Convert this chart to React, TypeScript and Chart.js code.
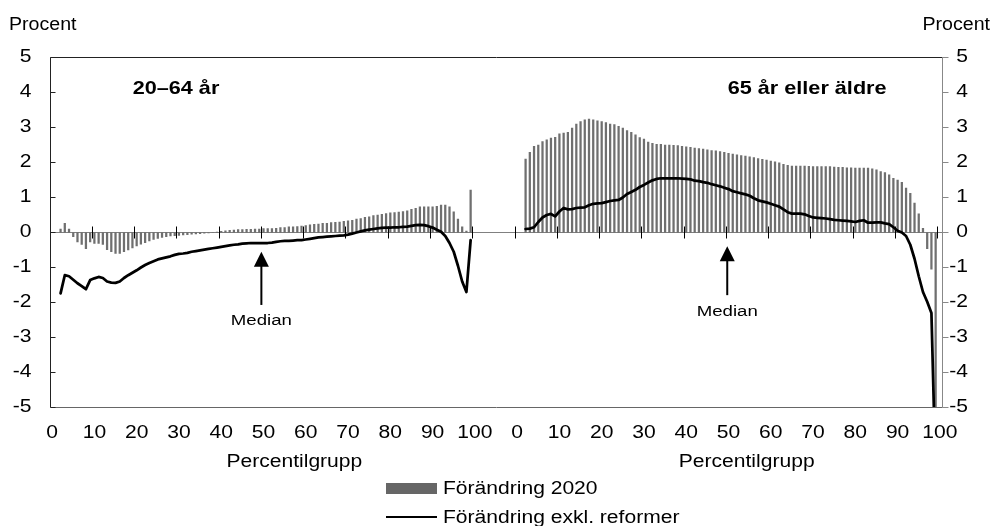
import React, { useEffect, useRef } from 'react';
import { Chart, registerables } from 'chart.js';

Chart.register(...registerables);

// ---------- data ----------
const percentiles = [
  2, 3, 4, 5, 6, 7, 8, 9,
  10, 11, 12, 13, 14, 15, 16, 17, 18, 19,
  20, 21, 22, 23, 24, 25, 26, 27, 28, 29,
  30, 31, 32, 33, 34, 35, 36, 37, 38, 39,
  40, 41, 42, 43, 44, 45, 46, 47, 48, 49,
  50, 51, 52, 53, 54, 55, 56, 57, 58, 59,
  60, 61, 62, 63, 64, 65, 66, 67, 68, 69,
  70, 71, 72, 73, 74, 75, 76, 77, 78, 79,
  80, 81, 82, 83, 84, 85, 86, 87, 88, 89,
  90, 91, 92, 93, 94, 95, 96, 97, 98, 99,
];

// 20–64 år
const youngChange2020 = [
  0.1, 0.26, 0.1, -0.12, -0.27, -0.34, -0.46, -0.27,
  -0.31, -0.31, -0.34, -0.49, -0.55, -0.6, -0.6, -0.55, -0.5, -0.44,
  -0.38, -0.33, -0.29, -0.24, -0.2, -0.17, -0.14, -0.12, -0.1, -0.09,
  -0.08, -0.07, -0.06, -0.05, -0.04, -0.03, -0.02, -0.01, 0.0, 0.01,
  0.03, 0.05, 0.06, 0.07, 0.08, 0.08, 0.09, 0.09, 0.1, 0.1,
  0.11, 0.11, 0.11, 0.12, 0.14, 0.14, 0.16, 0.16, 0.17, 0.18,
  0.2, 0.22, 0.23, 0.24, 0.26, 0.26, 0.28, 0.29, 0.3, 0.32,
  0.33, 0.35, 0.38, 0.4, 0.43, 0.45, 0.48, 0.5, 0.52, 0.54,
  0.56, 0.57, 0.58, 0.6, 0.62, 0.66, 0.69, 0.73, 0.73, 0.73,
  0.73, 0.75, 0.78, 0.78, 0.73, 0.59, 0.38, 0.16, 0.04, 1.21,
];
const youngExclReforms = [
  -1.74, -1.22, -1.25, -1.35, -1.45, -1.53, -1.62, -1.36,
  -1.31, -1.27, -1.3, -1.4, -1.43, -1.44, -1.4, -1.3, -1.22, -1.15,
  -1.08, -1.0, -0.93, -0.87, -0.82, -0.77, -0.74, -0.71, -0.68, -0.64,
  -0.61, -0.6, -0.58, -0.55, -0.53, -0.51, -0.49, -0.47, -0.45, -0.43,
  -0.41, -0.39, -0.37, -0.35, -0.34, -0.32, -0.31, -0.3, -0.3, -0.3,
  -0.3, -0.3, -0.29, -0.27, -0.25, -0.24, -0.24, -0.23, -0.22, -0.22,
  -0.2, -0.18, -0.16, -0.14, -0.13, -0.12, -0.11, -0.1, -0.09, -0.08,
  -0.06, -0.03, 0.0, 0.03, 0.06, 0.08, 0.1, 0.12, 0.13, 0.14,
  0.14, 0.15, 0.15, 0.16, 0.17, 0.19, 0.21, 0.22, 0.21, 0.18,
  0.14, 0.08, 0.02, -0.1, -0.3, -0.55, -0.95, -1.4, -1.7, -0.22,
];

// 65 år eller äldre
const oldChange2020 = [
  2.1, 2.29, 2.46, 2.5, 2.6, 2.65, 2.7, 2.72,
  2.82, 2.84, 2.86, 2.98, 3.1, 3.17, 3.22, 3.24, 3.22, 3.19,
  3.17, 3.14, 3.1, 3.08, 3.03, 2.98, 2.91, 2.86, 2.79, 2.71,
  2.67, 2.58, 2.55, 2.52, 2.52, 2.5, 2.5, 2.49, 2.48, 2.46,
  2.45, 2.43, 2.41, 2.4, 2.38, 2.36, 2.34, 2.33, 2.31, 2.29,
  2.26, 2.24, 2.22, 2.2, 2.18, 2.16, 2.14, 2.11, 2.09, 2.07,
  2.04, 2.02, 1.99, 1.95, 1.92, 1.9, 1.9, 1.9, 1.9, 1.89,
  1.88, 1.88, 1.88, 1.88, 1.88, 1.87, 1.86, 1.86, 1.85, 1.85,
  1.84, 1.84, 1.84, 1.84, 1.82, 1.79, 1.74, 1.71, 1.65, 1.55,
  1.5, 1.43, 1.27, 1.12, 0.84, 0.53, 0.12, -0.46, -1.05, -6,
];
const oldExclReforms = [
  0.1, 0.11, 0.15, 0.3, 0.43, 0.5, 0.53, 0.46,
  0.6, 0.7, 0.66, 0.67, 0.7, 0.71, 0.72, 0.78, 0.82, 0.83,
  0.84, 0.87, 0.9, 0.92, 0.93, 1.0, 1.1, 1.16, 1.22, 1.3,
  1.36, 1.43, 1.49, 1.53, 1.55, 1.55, 1.55, 1.55, 1.55, 1.54,
  1.53, 1.52, 1.48, 1.47, 1.44, 1.42, 1.38, 1.35, 1.32, 1.28,
  1.24, 1.18, 1.15, 1.12, 1.09, 1.05, 0.98, 0.92, 0.89, 0.86,
  0.82, 0.78, 0.74, 0.66, 0.58, 0.54, 0.54, 0.54, 0.52, 0.47,
  0.43, 0.42, 0.41, 0.4, 0.38, 0.36, 0.35, 0.34, 0.33, 0.32,
  0.3, 0.33, 0.35, 0.28, 0.28, 0.29, 0.29, 0.26, 0.24, 0.15,
  0.05, 0.0, -0.1, -0.35, -0.75, -1.25, -1.7, -1.98, -2.3, -7,
];

const yTicks = [-5, -4, -3, -2, -1, 0, 1, 2, 3, 4, 5];
const xTickLabels = [0, 10, 20, 30, 40, 50, 60, 70, 80, 90, 100];
const panelTitles = ['20–64 år', '65 år eller äldre'];
const legendLabels = ['Förändring 2020', 'Förändring exkl. reformer'];
const axisTitle = 'Percentilgrupp';
const unitLabel = 'Procent';
const medianLabel = 'Median';

// layout constants (category-axis offset of the second panel)
const RIGHT_OFFSET = 110;

const FONT = 'Arial, "Liberation Sans", sans-serif';
const SX = 1.17;
const BAR_COLOR = '#6f6f6f';

function txt(ctx: CanvasRenderingContext2D, s: string, x: number, y: number, align: CanvasTextAlign, size: number, bold = false, sx = SX) {
  ctx.save();
  ctx.translate(x, y);
  ctx.scale(sx, 1);
  ctx.font = `${bold ? 'bold ' : ''}${size}px ${FONT}`;
  ctx.textAlign = align;
  ctx.textBaseline = 'middle';
  ctx.fillStyle = '#000';
  ctx.fillText(s, 0, 0);
  ctx.restore();
}

function seg(ctx: CanvasRenderingContext2D, x1: number, y1: number, x2: number, y2: number) {
  ctx.beginPath();
  ctx.moveTo(x1, y1);
  ctx.lineTo(x2, y2);
  ctx.stroke();
}

function arrow(ctx: CanvasRenderingContext2D, x: number, tip: number, base: number, end: number) {
  ctx.save();
  ctx.fillStyle = '#000';
  ctx.strokeStyle = '#000';
  ctx.lineWidth = 2;
  seg(ctx, x, base - 1, x, end);
  ctx.beginPath();
  ctx.moveTo(x, tip);
  ctx.lineTo(x - 7.5, base);
  ctx.lineTo(x + 7.5, base);
  ctx.closePath();
  ctx.fill();
  ctx.restore();
}

const decorations = {
  id: 'decorations',
  beforeDatasetsDraw(chart: any) {
    const { ctx, chartArea: a, scales } = chart;
    const x = scales.x;
    const y = scales.y;
    const y0 = Math.floor(y.getPixelForValue(0)) + 0.5;
    ctx.save();
    ctx.lineWidth = 1;
    ctx.strokeStyle = '#808080';
    seg(ctx, a.left, y0, a.right, y0);
    ctx.strokeStyle = '#000';
    for (let k = 1; k <= 21; k++) {
      const px = Math.floor(x.getPixelForValue(k * 10 - 0.5)) + 0.5;
      seg(ctx, px, y0 - 6, px, y0 + 6);
    }
    ctx.restore();
  },
  afterDraw(chart: any) {
    const { ctx, chartArea: a, scales } = chart;
    const x = scales.x;
    const y = scales.y;
    ctx.save();
    ctx.lineWidth = 1;
    const L = Math.floor(a.left) + 0.5;
    const R = Math.floor(a.right) + 0.5;
    const T = Math.floor(a.top) + 0.5;
    const B = Math.floor(a.bottom) + 0.5;
    // frame
    ctx.strokeStyle = '#222';
    seg(ctx, L, T, R, T);
    seg(ctx, L, T, L, B);
    ctx.strokeStyle = '#666';
    seg(ctx, L, B, R, B);
    ctx.strokeStyle = '#888';
    seg(ctx, R, T, R, B);

    // y ticks and labels
    for (const v of yTicks) {
      const py = Math.floor(y.getPixelForValue(v)) + 0.5;
      ctx.strokeStyle = '#222';
      seg(ctx, L, py, L + 5, py);
      ctx.strokeStyle = '#888';
      seg(ctx, R, py, R + 6, py);
      txt(ctx, String(v), 31.5, y.getPixelForValue(v), 'right', 18);
      txt(ctx, String(v), 968, y.getPixelForValue(v), 'right', 18);
    }
    // x labels
    for (const v of xTickLabels) {
      txt(ctx, String(v), x.getPixelForValue(v), 433.5, 'center', 18);
      txt(ctx, String(v), x.getPixelForValue(v + RIGHT_OFFSET), 433.5, 'center', 18);
    }
    txt(ctx, axisTitle, x.getPixelForValue(57.3), 462, 'center', 18);
    txt(ctx, axisTitle, x.getPixelForValue(164.3), 462, 'center', 18);

    // unit labels
    txt(ctx, unitLabel, 9, 25, 'left', 17.5, false, 1.12);
    txt(ctx, unitLabel, 990, 25, 'right', 17.5, false, 1.12);

    // panel titles
    txt(ctx, panelTitles[0], x.getPixelForValue(29.3), y.getPixelForValue(4.1), 'center', 18.5, true);
    txt(ctx, panelTitles[1], x.getPixelForValue(178.6), y.getPixelForValue(4.1), 'center', 18.5, true);

    // median arrows
    arrow(ctx, x.getPixelForValue(49.5), y.getPixelForValue(-0.55), y.getPixelForValue(-0.98), y.getPixelForValue(-2.07));
    txt(ctx, medianLabel, x.getPixelForValue(49.5), y.getPixelForValue(-2.53), 'center', 15.5, false, 1.2);
    arrow(ctx, x.getPixelForValue(159.7), y.getPixelForValue(-0.39), y.getPixelForValue(-0.82), y.getPixelForValue(-1.79));
    txt(ctx, medianLabel, x.getPixelForValue(159.7), y.getPixelForValue(-2.27), 'center', 15.5, false, 1.2);

    // legend
    ctx.fillStyle = '#666666';
    ctx.fillRect(386, 483, 51, 11);
    txt(ctx, legendLabels[0], 443, 489, 'left', 18);
    ctx.strokeStyle = '#000';
    ctx.lineWidth = 2;
    seg(ctx, 386, 517, 437, 517);
    txt(ctx, legendLabels[1], 443, 518.5, 'left', 18);
    ctx.restore();
  },
};

export default function App() {
  const ref = useRef<HTMLCanvasElement>(null);
  useEffect(() => {
    document.body.style.margin = '0';
    const canvas = ref.current;
    if (!canvas) return;
    const barPoints = [
      ...percentiles.map((p, i) => ({ x: p, y: youngChange2020[i] })),
      ...percentiles.map((p, i) => ({ x: p + RIGHT_OFFSET, y: oldChange2020[i] })),
    ];
    const youngLine = percentiles.map((p, i) => ({ x: p, y: youngExclReforms[i] }));
    const oldLine = percentiles.map((p, i) => ({ x: p + RIGHT_OFFSET, y: oldExclReforms[i] }));
    const lineStyle = {
      type: 'line' as const,
      borderColor: '#000',
      borderWidth: 2.75,
      pointRadius: 0,
      tension: 0,
      borderJoinStyle: 'round' as const,
      borderCapStyle: 'round' as const,
      order: 1,
    };
    const chart = new Chart(canvas, {
      type: 'bar',
      data: {
        datasets: [
          {
            type: 'bar',
            label: legendLabels[0],
            data: barPoints,
            backgroundColor: BAR_COLOR,
            barThickness: 1.6,
            grouped: false,
            order: 2,
          } as any,
          { ...lineStyle, label: legendLabels[1], data: youngLine } as any,
          { ...lineStyle, label: legendLabels[1], data: oldLine } as any,
        ],
      },
      options: {
        responsive: false,
        animation: false,
        devicePixelRatio: 1,
        layout: { padding: { left: 50, right: 50, top: 57.5, bottom: 118.5 } },
        scales: {
          x: { type: 'linear', min: -0.5, max: 210.5, display: false, offset: false },
          y: { type: 'linear', min: -5, max: 5, display: false },
        },
        plugins: { legend: { display: false }, tooltip: { enabled: false } },
      },
      plugins: [decorations],
    });
    return () => chart.destroy();
  }, []);
  return (
    <canvas ref={ref} width={992} height={526} style={{ display: 'block', width: 992, height: 526 }} />
  );
}
